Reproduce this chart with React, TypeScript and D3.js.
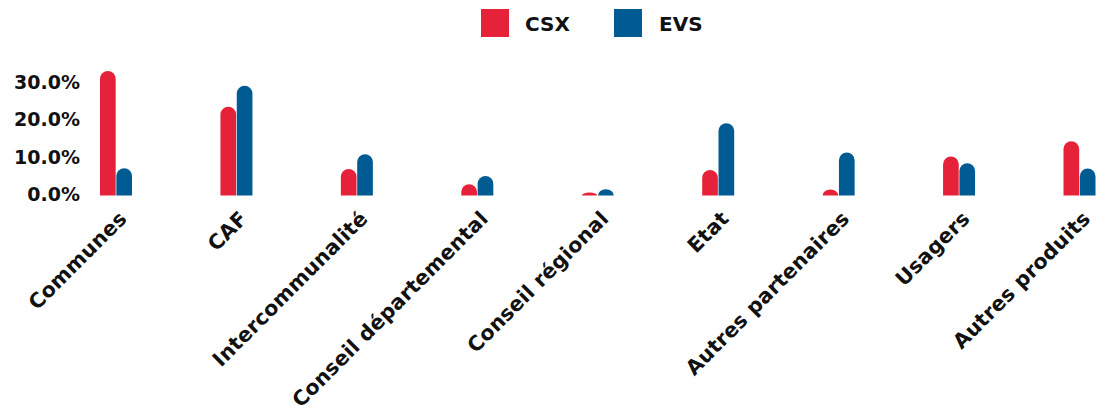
import * as React from "react";
import * as d3 from "d3";

const categories = [
  "Communes",
  "CAF",
  "Intercommunalité",
  "Conseil départemental",
  "Conseil régional",
  "Etat",
  "Autres partenaires",
  "Usagers",
  "Autres produits",
];
const seriesNames = ["CSX", "EVS"];
const csxValues = [0.332, 0.237, 0.071, 0.03, 0.008, 0.068, 0.016, 0.104, 0.145];
const evsValues = [0.073, 0.293, 0.11, 0.052, 0.017, 0.193, 0.115, 0.086, 0.072];
const yTicks = [0, 0.1, 0.2, 0.3];

const colors = { CSX: "#e6223a", EVS: "#015b93" };
const FONT = "'DejaVu Sans', sans-serif";

// bar with rounded top only
function barPath(x, w, yTop, yBase) {
  const h = yBase - yTop;
  const r = Math.min(w / 2, h);
  return `M${x},${yBase} L${x},${yTop + r} A${w / 2},${r} 0 0 1 ${x + w},${yTop + r} L${x + w},${yBase} Z`;
}

export default function App() {
  const width = 1106;
  const height = 411;

  const x = d3.scalePoint().domain(categories).range([116, 1079.5]);
  const inner = d3.scaleBand().domain(seriesNames).range([-16, 16]).paddingInner(0.04);
  const y = d3.scaleLinear().domain([0, 0.3]).range([195.5, 83]);
  const fmt = d3.format(".1%");

  const rows = categories.map((c, i) => ({ cat: c, CSX: csxValues[i], EVS: evsValues[i] }));

  return (
    <svg width={width} height={height} style={{ display: "block", position: "absolute", left: 0, top: 0 }}>
      {/* legend */}
      <g fontFamily={FONT} fontWeight="bold" fontSize={20}>
        <rect x={481} y={9} width={28} height={28} fill={colors.CSX} />
        <text x={525} y={31} fill="#111">CSX</text>
        <rect x={614} y={9} width={28} height={28} fill={colors.EVS} />
        <text x={659} y={31} fill="#111">EVS</text>
      </g>

      {/* y axis labels */}
      <g fontFamily={FONT} fontWeight="bold" fontSize={19} fill="#111" textAnchor="end">
        {yTicks.map((t) => (
          <text key={t} x={80} y={y(t) - 1} dy="0.35em">{fmt(t)}</text>
        ))}
      </g>

      {/* bars */}
      <g>
        {rows.map((r) => (
          <g key={r.cat} transform={`translate(${x(r.cat)},0)`}>
            {seriesNames.map((s) => (
              <path
                key={s}
                d={barPath(inner(s), inner.bandwidth(), y(r[s]), y(0))}
                fill={colors[s]}
              />
            ))}
          </g>
        ))}
      </g>

      {/* x labels */}
      <g fontFamily={FONT} fontWeight="bold" fontSize={20.5} letterSpacing={0.2} fill="#111" textAnchor="end">
        {categories.map((c) => (
          <text key={c} transform={`translate(${x(c) + 12},220) rotate(-45)`}>{c}</text>
        ))}
      </g>
    </svg>
  );
}
